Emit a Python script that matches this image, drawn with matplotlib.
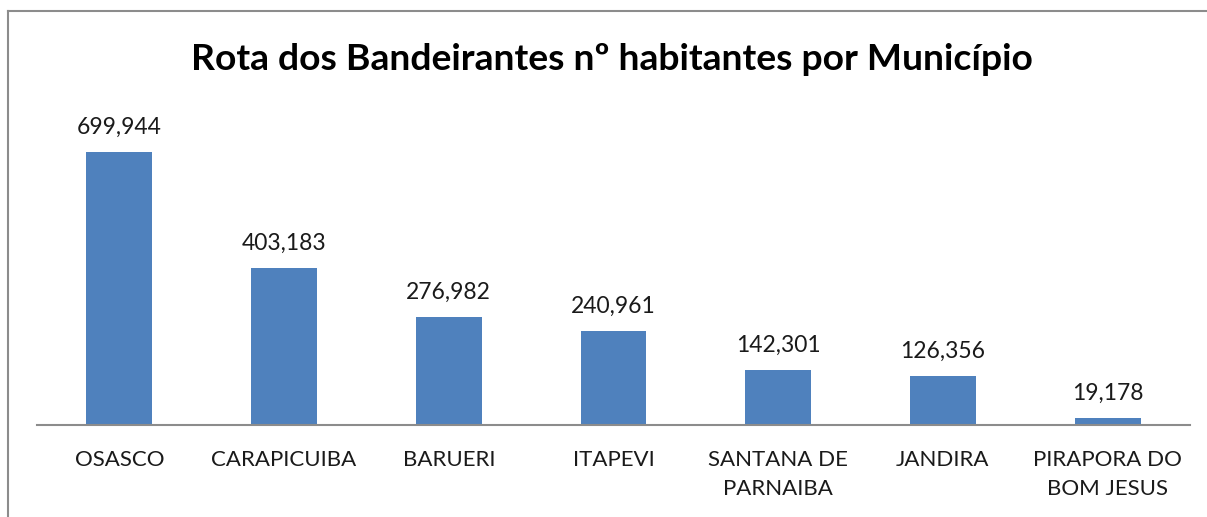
import matplotlib.pyplot as plt
from matplotlib.lines import Line2D

municipios = ["OSASCO", "CARAPICUIBA", "BARUERI", "ITAPEVI",
              "SANTANA DE\nPARNAIBA", "JANDIRA", "PIRAPORA DO\nBOM JESUS"]
habitantes = [699944, 403183, 276982, 240961, 142301, 126356, 19178]

BAR_COLOR = "#4F81BD"
FONT = "Lato"

fig = plt.figure(figsize=(12.07, 5.17), dpi=100)
W, H = 1207, 517

# chart frame (only left and top edges visible)
fig.add_artist(Line2D([8 / W, 8 / W], [0, 1 - 11 / H], transform=fig.transFigure,
                      color="#8c8c8c", lw=1.5))
fig.add_artist(Line2D([8 / W, 1], [1 - 11 / H, 1 - 11 / H], transform=fig.transFigure,
                      color="#8c8c8c", lw=1.5))

left, right = 37 / W, 1190 / W
bottom, top = 1 - 425 / H, 1 - 100 / H
ax = fig.add_axes([left, bottom, right - left, top - bottom])

x = range(len(municipios))
bars = ax.bar(x, habitantes, width=0.4, color=BAR_COLOR, zorder=2)
ax.set_xlim(-0.5, len(municipios) - 0.5)
ax.set_ylim(0, 833300)

for b, v in zip(bars, habitantes):
    ax.annotate(f"{v:,}", (b.get_x() + b.get_width() / 2, v),
                xytext=(0, 10), textcoords="offset points",
                ha="center", va="bottom", fontsize=16.5, family=FONT, color="#1a1a1a")

for s in ["top", "right", "left"]:
    ax.spines[s].set_visible(False)
ax.spines["bottom"].set_color("#8c8c8c")
ax.spines["bottom"].set_linewidth(1.5)
ax.set_yticks([])
ax.set_xticks(list(x))
ax.set_xticklabels(municipios, fontsize=16, family=FONT, color="#1a1a1a",
                   linespacing=1.55, va="top")
ax.tick_params(axis="x", length=0, pad=18)

fig.text(612 / W, 1 - 60 / H, "Rota dos Bandeirantes nº habitantes por Município",
         ha="center", va="center", fontsize=26.8, fontweight="bold", family=FONT)

fig.savefig("out.png", dpi=100)
